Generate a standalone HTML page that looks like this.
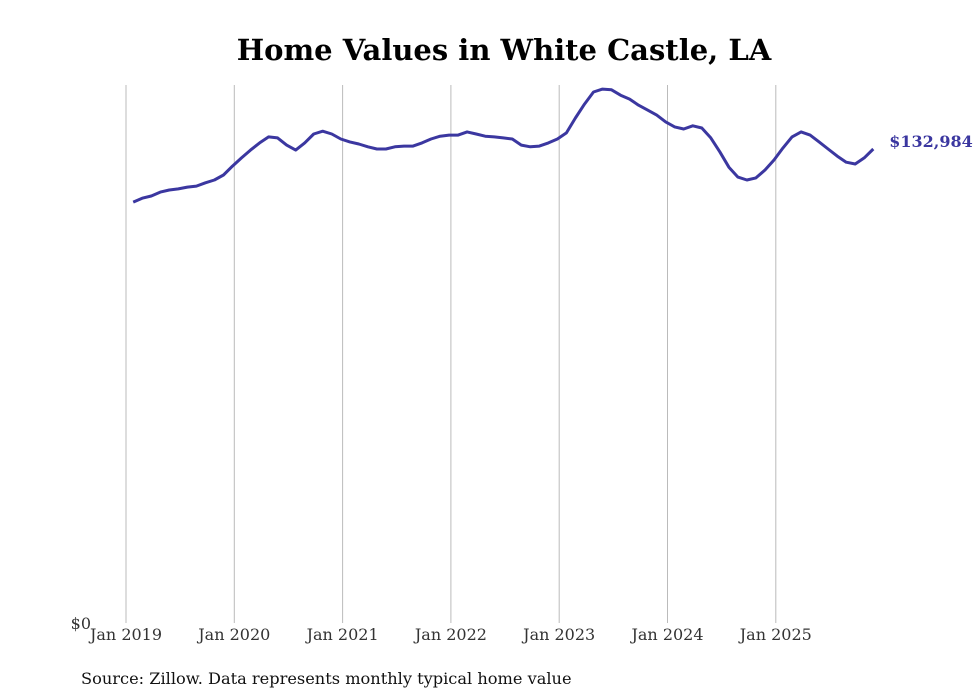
<!DOCTYPE html>
<html><head><meta charset="utf-8">
<style>
body{margin:0;background:#fff;}
svg{display:block;font-family:"DejaVu Serif","Liberation Serif",serif;}
</style></head>
<body>
<svg id="chart" width="980" height="699">
<text x="504" y="60" text-anchor="middle" font-size="29" font-weight="bold" fill="#000">Home Values in White Castle, LA</text>
<g id="grid"></g>
<g id="xlabels"></g>
<text x="91" y="629" text-anchor="end" font-size="16" fill="#333">$0</text>
<path id="line" fill="none" stroke="#3b37a0" stroke-width="3" stroke-linejoin="round"></path>
<text id="endlabel" font-size="16" font-weight="bold" fill="#3b37a0"></text>
<text x="81" y="684" font-size="16.2" fill="#111">Source: Zillow. Data represents monthly typical home value</text>
</svg>
<script>
const tickLabels=["Jan 2019","Jan 2020","Jan 2021","Jan 2022","Jan 2023","Jan 2024","Jan 2025"];
const startMonth=0.8; // first observation (months since Jan 2019)
const values=[118.1,119.2,119.8,120.9,121.5,121.8,122.3,122.6,123.5,124.3,125.7,
128.2,130.5,132.7,134.7,136.4,136.1,134.1,132.7,134.7,137.2,138.0,137.2,
135.8,135.0,134.4,133.6,133.0,133.0,133.6,133.8,133.8,134.7,135.8,136.6,
136.9,136.9,137.8,137.2,136.6,136.4,136.1,135.8,134.1,133.6,133.8,134.7,
135.8,137.5,141.7,145.6,149.0,149.8,149.6,148.1,147.0,145.3,143.9,142.5,
140.6,139.2,138.6,139.5,138.9,136.1,132.2,127.9,125.1,124.3,124.9,127.1,
129.9,133.3,136.4,137.8,136.9,135.0,133.0,131.0,129.3,128.8,130.5,132.984];
const endLabel="$132,984";
const x=m=>126+m*(108.3/12);
const y=v=>623-v*3.564;
const ns="http://www.w3.org/2000/svg";
const grid=document.getElementById('grid'),xl=document.getElementById('xlabels');
tickLabels.forEach((t,i)=>{
  const l=document.createElementNS(ns,'line');
  l.setAttribute('x1',x(i*12));l.setAttribute('x2',x(i*12));
  l.setAttribute('y1',85);l.setAttribute('y2',623);
  l.setAttribute('stroke','#bbb');l.setAttribute('stroke-width','1');
  
  
  grid.appendChild(l);
  const tx=document.createElementNS(ns,'text');
  tx.setAttribute('x',x(i*12));tx.setAttribute('y',640);
  tx.setAttribute('text-anchor','middle');tx.setAttribute('font-size','16');tx.setAttribute('fill','#333');
  tx.textContent=t;
  
  
  xl.appendChild(tx);
});
let d='';
values.forEach((v,i)=>{d+=(i?'L':'M')+x(startMonth+i).toFixed(1)+','+y(v).toFixed(1);});
document.getElementById('line').setAttribute('d',d);
const el=document.getElementById('endlabel');
const li=values.length-1;
el.setAttribute('x',x(startMonth+li)+16);el.setAttribute('y',y(values[li])-2);
el.textContent=endLabel;
</script>
</body></html>
